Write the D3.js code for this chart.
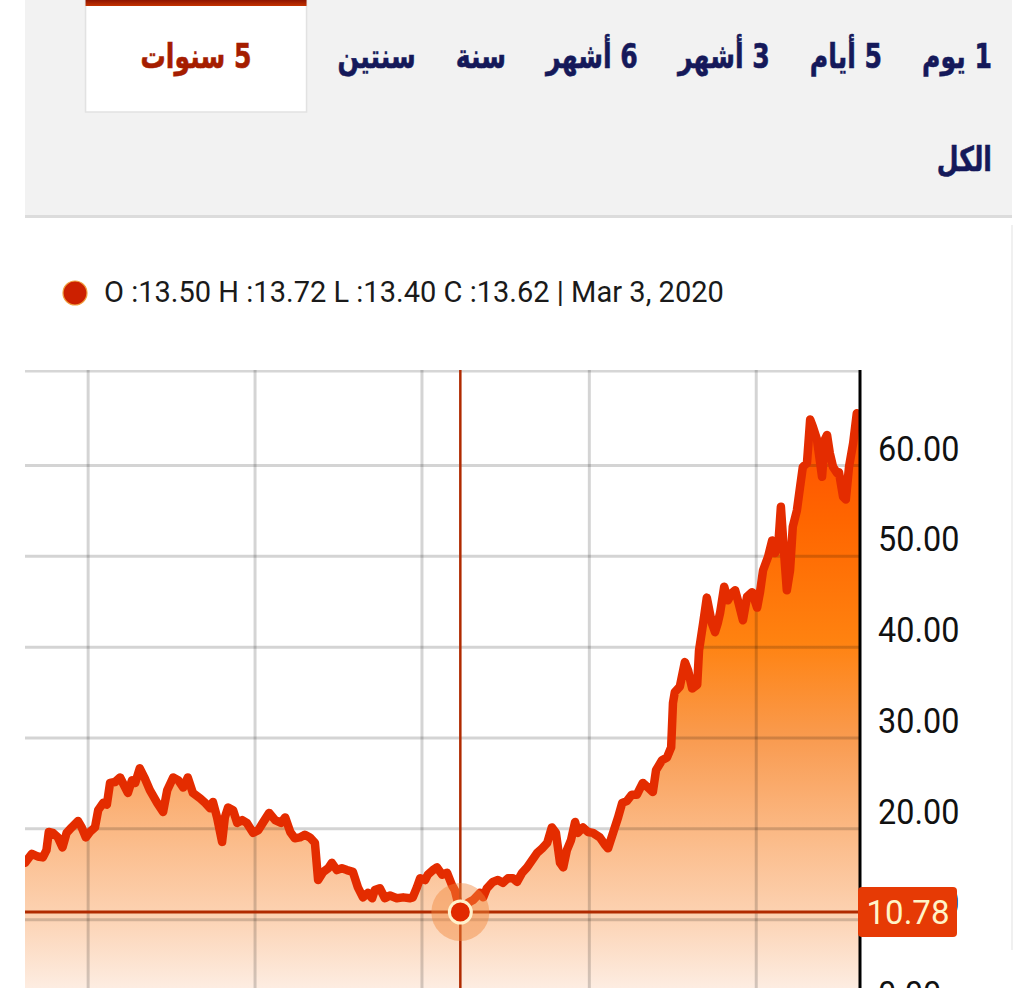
<!DOCTYPE html>
<html>
<head>
<meta charset="utf-8">
<script src="https://cdn.jsdelivr.net/npm/d3@7"></script>
<style>
  html, body { margin: 0; padding: 0; background: #fff; }
  svg { display: block; }
</style>
</head>
<body>
<svg id="chart" width="1024" height="988"></svg>
<script>
"use strict";

// Range tabs (right to left), the active one
const tabLabels = ["1 يوم", "5 أيام", "3 أشهر", "6 أشهر", "سنة", "سنتين", "5 سنوات", "الكل"];
const activeTab = "5 سنوات";

// Hovered candle
const ohlcNames = ["O", "H", "L", "C"];
const ohlcValues = [13.50, 13.72, 13.40, 13.62];
const hoverDate = "2020-03-03";
const hoverValue = 10.78;

// Time range of the chart and yearly grid lines
const startDate = "2017-07-25";
const endDate = "2022-07-25";
const gridDates = ["2017-12-09", "2018-12-09", "2019-12-09", "2020-12-09", "2021-12-09"];
const yTicks = [0, 10, 20, 30, 40, 50, 60];

// Close prices, days counted from startDate
const dayOffsets = [
  0, 15, 28, 39, 47, 52, 61, 72, 82, 91, 102, 116, 124, 133, 142, 153, 160, 171, 179, 186,
  197, 208, 216, 225, 234, 241, 251, 262, 273, 289, 302, 311, 324, 335, 346, 356, 367, 383, 394, 405,
  411, 420, 431, 437, 444, 455, 464, 475, 485, 499, 510, 520, 534, 547, 560, 569, 580, 590, 601, 612,
  623, 634, 641, 652, 663, 671, 682, 693, 704, 717, 728, 739, 750, 759, 765, 776, 787, 798, 813, 827,
  842, 848, 857, 864, 875, 881, 892, 901, 912, 923, 934, 940, 952, 969, 980, 995, 1002, 1010, 1023, 1034,
  1045, 1056, 1067, 1076, 1087, 1098, 1109, 1120, 1131, 1142, 1152, 1161, 1170, 1177, 1185, 1194, 1203, 1209, 1220, 1231,
  1242, 1257, 1268, 1275, 1286, 1297, 1306, 1316, 1327, 1338, 1351, 1362, 1373, 1380, 1393, 1404, 1413, 1417, 1421, 1432,
  1443, 1450, 1459, 1470, 1474, 1483, 1491, 1502, 1509, 1515, 1520, 1529, 1537, 1546, 1553, 1559, 1570, 1579, 1590, 1601,
  1607, 1614, 1625, 1634, 1640, 1647, 1653, 1658, 1666, 1673, 1679, 1688, 1695, 1701, 1710, 1717, 1723, 1732, 1743, 1749,
  1754, 1760, 1767, 1776, 1780, 1789, 1795, 1802, 1811, 1819, 1826
];
const closes = [
  16.2, 17.2, 16.9, 16.8, 17.6, 19.6, 19.5, 19.0, 17.9, 19.5, 20.1, 20.8, 20.1, 19.0, 19.6, 20.1, 22.0, 22.8, 22.6, 25.0,
  25.1, 25.6, 24.8, 23.9, 25.3, 25.0, 26.6, 25.5, 24.2, 22.8, 21.8, 24.2, 25.6, 25.3, 24.5, 25.6, 23.9, 23.3, 22.8, 22.2,
  22.9, 21.2, 18.5, 21.2, 22.3, 22.0, 20.6, 20.9, 20.6, 19.5, 19.8, 20.6, 21.7, 20.9, 20.6, 21.2, 19.6, 18.9, 19.0, 19.3,
  19.0, 18.4, 14.3, 15.2, 15.6, 16.2, 15.4, 15.6, 15.4, 15.2, 13.5, 12.4, 12.9, 12.3, 13.2, 13.4, 12.3, 12.6, 12.3, 12.4,
  12.3, 12.4, 13.5, 14.5, 14.3, 14.9, 15.4, 15.7, 14.9, 15.1, 13.7, 13.2, 10.78, 11.8, 12.1, 12.9, 12.4, 13.4, 14.1, 14.3,
  14.0, 14.5, 14.5, 14.1, 15.1, 15.7, 16.5, 17.3, 17.8, 18.4, 20.1, 19.5, 16.2, 15.7, 17.6, 18.7, 20.7, 19.5, 20.1, 19.6,
  19.5, 19.0, 18.2, 17.8, 19.5, 21.2, 22.8, 23.0, 23.7, 23.7, 25.0, 24.5, 24.0, 26.4, 27.5, 27.8, 28.9, 33.8, 35.0, 35.6,
  38.3, 37.4, 35.4, 35.8, 39.6, 42.6, 45.4, 42.6, 41.6, 42.6, 43.7, 46.6, 45.1, 45.9, 46.2, 45.1, 42.9, 45.5, 46.0, 44.3,
  45.9, 48.4, 49.9, 51.7, 50.3, 51.0, 55.4, 51.7, 46.2, 48.4, 53.2, 55.0, 57.6, 59.8, 60.2, 65.0, 64.2, 62.8, 58.7, 62.8,
  63.3, 61.3, 59.8, 59.1, 59.2, 56.5, 56.2, 59.8, 62.4, 65.7, 65.5
];

const parseDate = d3.timeParse("%Y-%m-%d");
const start = parseDate(startDate);
const series = dayOffsets.map((d, i) => ({ date: d3.timeDay.offset(start, d), value: closes[i] }));

const svg = d3.select("#chart");
const W = +svg.attr("width");
const H = +svg.attr("height");

// ---------- tab panel ----------
const panel = { left: 25, right: 1012, bottom: 217 };
const tabFont = "'DejaVu Sans', sans-serif";
const tabScaleX = 0.74;

svg.append("rect")
  .attr("x", panel.left).attr("y", 0)
  .attr("width", panel.right - panel.left).attr("height", panel.bottom)
  .attr("fill", "#f2f2f2");
svg.append("rect")
  .attr("x", panel.left).attr("y", panel.bottom - 2)
  .attr("width", panel.right - panel.left).attr("height", 3)
  .attr("fill", "#dcdcdc");

const defs = svg.append("defs");
const tabBar = defs.append("linearGradient").attr("id", "tab-bar")
  .attr("x1", 0).attr("y1", 0).attr("x2", 0).attr("y2", 1);
tabBar.append("stop").attr("offset", 0).attr("stop-color", "#8e1400");
tabBar.append("stop").attr("offset", 1).attr("stop-color", "#c43200");

const tabsG = svg.append("g").attr("id", "tabs");
const rowBase = [68, 171];
const TAB_GAP = 40, SEL_PAD = 55, SEL_GAP = 31, ROW_RIGHT = 992;
let cursor = ROW_RIGHT, row = 0;

tabLabels.forEach(function(label) {
  const active = label === activeTab;
  const g = tabsG.append("g");
  const t = g.append("text")
    .attr("direction", "rtl")
    .attr("text-anchor", "middle")
    .attr("font-family", tabFont)
    .attr("font-weight", "bold")
    .attr("font-size", 34)
    .attr("fill", active ? "#a51d00" : "#15195a")
    .attr("stroke", active ? "#a51d00" : "#15195a")
    .attr("stroke-width", 0.6)
    .text(label);
  const w = t.node().getComputedTextLength() * tabScaleX;
  let cx;
  if (active) {
    const boxRight = cursor + TAB_GAP - SEL_GAP;
    const boxLeft = boxRight - w - 2 * SEL_PAD;
    g.insert("rect", "text")
      .attr("x", boxLeft).attr("y", 0)
      .attr("width", boxRight - boxLeft).attr("height", 112)
      .attr("fill", "#fff").attr("stroke", "#e2e2e2").attr("stroke-width", 1.5);
    g.insert("rect", "text")
      .attr("x", boxLeft).attr("y", 0)
      .attr("width", boxRight - boxLeft).attr("height", 6)
      .attr("fill", "url(#tab-bar)");
    cx = (boxLeft + boxRight) / 2;
    cursor = boxLeft - SEL_GAP;
  } else {
    if (cursor - w < panel.left + 20) { // wrap to next row
      row += 1;
      cursor = ROW_RIGHT;
    }
    cx = cursor - w / 2;
    cursor -= w + TAB_GAP;
  }
  t.attr("transform", "translate(" + cx + "," + rowBase[row] + ") scale(" + tabScaleX + ",1)");
});

// ---------- legend ----------
const fmtDate = d3.timeFormat("%b %-d, %Y");
const legendText = ohlcNames.map((n, i) => n + " :" + ohlcValues[i].toFixed(2)).join(" ") +
  " | " + fmtDate(parseDate(hoverDate));

svg.append("circle")
  .attr("cx", 75).attr("cy", 293).attr("r", 12)
  .attr("fill", "#cc2000").attr("stroke", "#f0a040").attr("stroke-width", 1.2);
svg.append("text")
  .attr("transform", "translate(104,302) scale(0.985,1)")
  .attr("font-family", "Roboto, sans-serif")
  .attr("font-size", 29.5)
  .attr("fill", "#1a1a1a")
  .text(legendText);

// ---------- plot ----------
const plot = { left: 25, right: 860, top: 370, bottom: 1010 };

const x = d3.scaleTime()
  .domain([start, parseDate(endDate)])
  .range([plot.left, plot.right]);
const y = d3.scaleLinear()
  .domain([0, 60])
  .range([plot.bottom, 465]);

defs.append("clipPath").attr("id", "plot-clip")
  .append("rect")
  .attr("x", plot.left).attr("y", plot.top)
  .attr("width", plot.right - plot.left).attr("height", plot.bottom - plot.top);

const fill = defs.append("linearGradient").attr("id", "area-fill")
  .attr("gradientUnits", "userSpaceOnUse")
  .attr("x1", 0).attr("y1", y(65.5)).attr("x2", 0).attr("y2", plot.bottom);
[[0, "#ff4c00"], [0.18, "#ff6600"], [0.38, "#ff8210"], [0.55, "#f99c52"],
 [0.70, "#fbb985"], [0.84, "#fcd2b2"], [0.97, "#fdeee4"], [1, "#fdf1ea"]]
  .forEach(s => fill.append("stop").attr("offset", s[0]).attr("stop-color", s[1]));

const plotG = svg.append("g").attr("clip-path", "url(#plot-clip)");

// top border of plot
plotG.append("line")
  .attr("x1", plot.left).attr("x2", plot.right)
  .attr("y1", plot.top + 1).attr("y2", plot.top + 1)
  .attr("stroke", "#d6d6d6").attr("stroke-width", 3);

const area = d3.area()
  .x(d => x(d.date))
  .y0(y(0))
  .y1(d => y(d.value));
const line = d3.line()
  .x(d => x(d.date))
  .y(d => y(d.value));

plotG.append("path")
  .datum(series)
  .attr("d", area)
  .attr("fill", "url(#area-fill)");

// grid drawn over the fill, slightly see-through
const gridColor = "rgba(0,0,0,0.17)";
plotG.append("g")
  .attr("transform", "translate(0," + plot.bottom + ")")
  .call(d3.axisBottom(x).tickValues(gridDates.map(parseDate))
    .tickSize(-(plot.bottom - plot.top)).tickFormat(""))
  .call(g => g.select(".domain").remove())
  .call(g => g.selectAll(".tick line").attr("stroke", gridColor).attr("stroke-width", 3));

plotG.append("g")
  .attr("transform", "translate(" + plot.left + ",0)")
  .call(d3.axisLeft(y).tickValues(yTicks.filter(v => v > 0))
    .tickSize(-(plot.right - plot.left)).tickFormat(""))
  .call(g => g.select(".domain").remove())
  .call(g => g.selectAll(".tick line").attr("stroke", gridColor).attr("stroke-width", 3));

plotG.append("path")
  .datum(series)
  .attr("d", line)
  .attr("fill", "none")
  .attr("stroke", "#e42c00")
  .attr("stroke-width", 8.5)
  .attr("stroke-linejoin", "round")
  .attr("stroke-linecap", "round");

// crosshair
const hx = x(parseDate(hoverDate));
const hy = y(hoverValue);
plotG.append("line")
  .attr("x1", hx).attr("x2", hx).attr("y1", plot.top).attr("y2", plot.bottom)
  .attr("stroke", "#b02a00").attr("stroke-width", 2.5);
plotG.append("line")
  .attr("x1", plot.left).attr("x2", plot.right).attr("y1", hy).attr("y2", hy)
  .attr("stroke", "#b02a00").attr("stroke-width", 3);
plotG.append("circle")
  .attr("cx", hx).attr("cy", hy).attr("r", 29)
  .attr("fill", "rgba(242,135,60,0.45)");
plotG.append("circle")
  .attr("cx", hx).attr("cy", hy).attr("r", 11)
  .attr("fill", "#e22a00").attr("stroke", "#fff2cc").attr("stroke-width", 3);

// right axis
const axisG = svg.append("g")
  .attr("transform", "translate(" + plot.right + ",0)")
  .call(d3.axisRight(y).tickValues(yTicks).tickSize(0).tickFormat(d => d.toFixed(2)));
axisG.select(".domain").remove();
axisG.selectAll(".tick text")
  .attr("font-family", "Roboto, sans-serif")
  .attr("font-size", 36)
  .attr("fill", "#111")
  .attr("x", 18 / 0.9)
  .attr("dy", -5)
  .attr("transform", "scale(0.9,1)");
svg.append("line")
  .attr("x1", plot.right).attr("x2", plot.right)
  .attr("y1", plot.top).attr("y2", H)
  .attr("stroke", "#000").attr("stroke-width", 3);

// value badge, covers the 10.00 label as in the app
svg.append("rect")
  .attr("x", plot.right - 2).attr("y", hy - 25)
  .attr("width", 99).attr("height", 50).attr("rx", 4)
  .attr("fill", "#e63a05");
svg.append("text")
  .attr("x", plot.right + 48).attr("y", hy + 12)
  .attr("text-anchor", "middle")
  .attr("font-family", "Roboto, sans-serif")
  .attr("font-size", 33)
  .attr("fill", "#fff4c8")
  .text(hoverValue.toFixed(2));

// card edge on the right
svg.append("line")
  .attr("x1", panel.right).attr("x2", panel.right)
  .attr("y1", 225).attr("y2", 950)
  .attr("stroke", "#f0f0f0").attr("stroke-width", 2);
</script>
</body>
</html>
